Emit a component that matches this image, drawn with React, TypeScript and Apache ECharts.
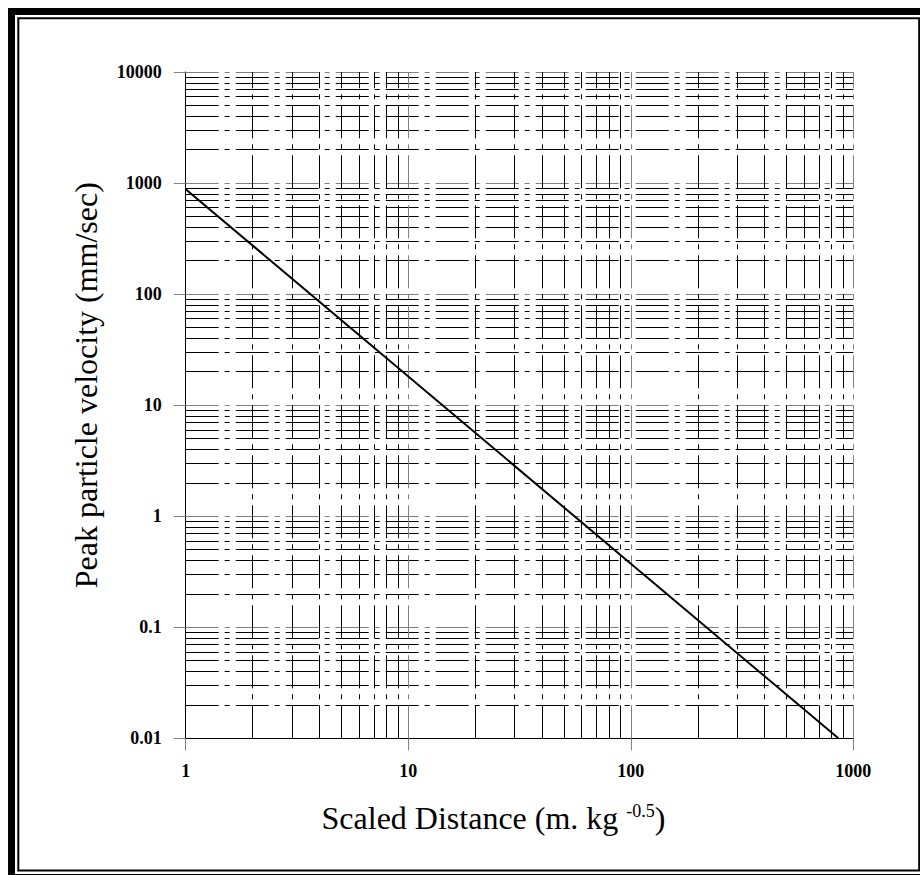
import React, { useEffect, useRef } from "react";
import * as echarts from "echarts";

// ---- data ----
const xMajor = [1, 10, 100, 1000];
const yMajor = [0.01, 0.1, 1, 10, 100, 1000, 10000];
const xTickLabels = ["1", "10", "100", "1000"];
const yTickLabels = ["0.01", "0.1", "1", "10", "100", "1000", "10000"];
const minorMultipliers = [2, 3, 4, 5, 6, 7, 8, 9];
// attenuation line (scaled distance vs peak particle velocity)
const scaledDistance = [1, 857];
const ppv = [880, 0.01];

const xTitle = "Scaled Distance (m. kg ";
const xTitleSup = "-0.5";
const yTitle = "Peak particle velocity (mm/sec)";

const FONT = "'Liberation Serif', 'Times New Roman', Times, serif";
const DASH = [33, 6, 5, 6];

function minors(majors: number[]) {
  const out: number[] = [];
  for (let i = 0; i < majors.length - 1; i++) {
    for (const m of minorMultipliers) out.push(Number((m * majors[i]).toPrecision(6)));
  }
  return out;
}

function labelFor(majors: number[], labels: string[]) {
  return (v: number) => {
    const i = majors.findIndex((m) => Math.abs(Math.log10(m) - Math.log10(v)) < 1e-6);
    return i >= 0 ? labels[i] : "";
  };
}

export default function App() {
  const ref = useRef<HTMLDivElement>(null);

  useEffect(() => {
    if (!ref.current) return;
    const chart = echarts.init(ref.current, undefined, { renderer: "svg" });

    const xMinor = minors(xMajor);
    const yMinor = minors(yMajor);
    const minorStyle = { color: "#000", width: 1, type: DASH, dashOffset: 0 };
    const majorStyle = { color: "#808080", width: 1, type: DASH, dashOffset: 0 };

    const gridLines = [
      ...yMinor.map((v) => ({ yAxis: v, lineStyle: minorStyle })),
      ...yMajor.slice(1).map((v) => ({ yAxis: v, lineStyle: majorStyle })),
      ...xMinor.map((v) => ({ xAxis: v, lineStyle: minorStyle })),
      ...xMajor.slice(1).map((v) => ({ xAxis: v, lineStyle: majorStyle })),
    ];

    chart.setOption({
      animation: false,
      backgroundColor: "#fff",
      grid: { left: 185.7, right: 66.7, top: 72, bottom: 136.7, containLabel: false },
      xAxis: {
        type: "log",
        logBase: 10,
        min: 1,
        max: 1000,
        name: `{a|${xTitle}}{b|${xTitleSup}}{a|)}`,
        nameLocation: "middle",
        nameGap: 64,
        nameTextStyle: {
          fontFamily: FONT,
          color: "#000",
          padding: [0, 52, 0, 0],
          rich: {
            a: { fontFamily: FONT, fontSize: 32, color: "#000" },
            b: { fontFamily: FONT, fontSize: 18, color: "#000", verticalAlign: "top" },
          },
        },
        axisLine: { show: true, onZero: false, lineStyle: { color: "#000", width: 1 } },
        axisTick: { show: true, inside: false, length: 12, lineStyle: { color: "#808080", width: 1 } },
        axisLabel: {
          margin: 24,
          fontFamily: FONT,
          fontSize: 18,
          fontWeight: "bold",
          color: "#000",
          formatter: labelFor(xMajor, xTickLabels),
        },
        splitLine: { show: false },
      },
      yAxis: {
        type: "log",
        logBase: 10,
        min: 0.01,
        max: 10000,
        name: yTitle,
        nameLocation: "middle",
        nameRotate: 90,
        nameGap: 84,
        nameTextStyle: {
          fontFamily: FONT,
          fontSize: 32,
          color: "#000",
          padding: [0, 0, 0, 40],
        },
        axisLine: { show: true, onZero: false, lineStyle: { color: "#000", width: 1 } },
        axisTick: { show: true, inside: false, length: 12, lineStyle: { color: "#808080", width: 1 } },
        axisLabel: {
          margin: 24,
          fontFamily: FONT,
          fontSize: 18,
          fontWeight: "bold",
          color: "#000",
          formatter: labelFor(yMajor, yTickLabels),
        },
        splitLine: { show: false },
      },
      graphic: [
        {
          type: "rect",
          silent: true,
          shape: { x: 11.5, y: 11.5, width: 930, height: 866 },
          style: { fill: "none", stroke: "#000", lineWidth: 7 },
        },
        {
          type: "rect",
          silent: true,
          shape: { x: 18.3, y: 18.2, width: 900.9, height: 852.3 },
          style: { fill: "none", stroke: "#000", lineWidth: 2 },
        },
      ],
      series: [
        {
          type: "line",
          data: scaledDistance.map((x, i) => [x, ppv[i]]),
          symbol: "none",
          lineStyle: { color: "#000", width: 2 },
          z: 2,
          silent: true,
          markLine: {
            z: 1,
            silent: true,
            symbol: ["none", "none"],
            label: { show: false },
            emphasis: { disabled: true },
            lineStyle: minorStyle,
            data: gridLines,
          },
        },
      ],
    });

    return () => chart.dispose();
  }, []);

  return (
    <div
      ref={ref}
      style={{ position: "fixed", left: 0, top: 0, width: 920, height: 875, background: "#fff" }}
    />
  );
}
